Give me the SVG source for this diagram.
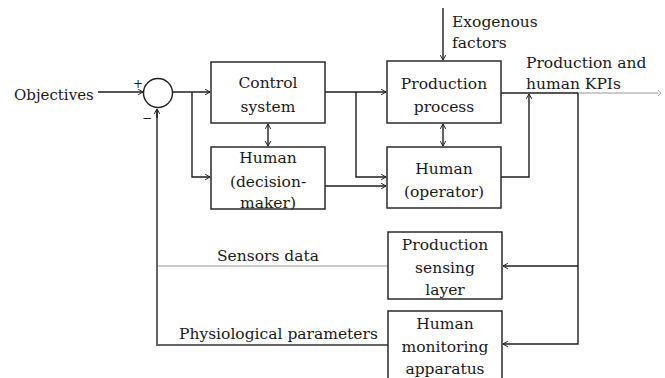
<svg xmlns="http://www.w3.org/2000/svg" width="665" height="378" viewBox="0 0 665 378">
<defs>
<marker id="ah" viewBox="0 0 10 10" refX="9" refY="5" markerWidth="7" markerHeight="7" markerUnits="userSpaceOnUse" orient="auto-start-reverse">
<polyline points="2,1 9,5 2,9" fill="none" stroke="#222" stroke-width="1.4"/>
</marker>
</defs>
<style>
.box{fill:#fff;stroke:#2a2a2a;stroke-width:1.5}
.t{font-family:"DejaVu Serif","Liberation Serif",serif;font-size:15.5px;fill:#1a1a1a}
.c{text-anchor:middle}
.ln{fill:none;stroke:#1e1e1e;stroke-width:1.4}
.gl{fill:none;stroke:#999;stroke-width:1.2}
.fb{fill:none;stroke:#666;stroke-width:2}
</style>
<rect width="665" height="378" fill="#fff"/>
<g id="connectors">
<path class="ln" d="M98,92 H143" marker-end="url(#ah)"/>
<path class="ln" d="M172,92 H210" marker-end="url(#ah)"/>
<path class="ln" d="M192,92 V177 H210" marker-end="url(#ah)"/>
<path class="ln" d="M268,124 V146" marker-start="url(#ah)" marker-end="url(#ah)"/>
<path class="ln" d="M325,92 H386" marker-end="url(#ah)"/>
<path class="ln" d="M356,92 V177 H386" marker-end="url(#ah)"/>
<path class="ln" d="M325,186 H386" marker-end="url(#ah)" stroke="#555"/>
<path class="ln" d="M443,8 V60" marker-end="url(#ah)"/>
<path class="ln" d="M443,124 V146" marker-start="url(#ah)" marker-end="url(#ah)"/>
<path class="ln" d="M501,93 H578"/>
<path class="gl" d="M578,93 H658"/>
<path d="M658,90 L661,93 L658,96" fill="none" stroke="#aaa" stroke-width="1"/>
<path class="ln" d="M501,177 H529 V94" marker-end="url(#ah)"/>
<path class="ln" d="M578,93 V344 H503" marker-end="url(#ah)"/>
<path class="ln" d="M578,266 H503" marker-end="url(#ah)"/>
<path class="gl" d="M388,266 H157"/>
<path class="fb" d="M388,345 H157 V109"/>
<path class="ln" d="M157,118 V109" marker-end="url(#ah)"/>
</g>
<g id="sum">
<circle cx="158" cy="93" r="14.5" fill="#fff" stroke="#222" stroke-width="1.4"/>
<text class="t" x="133" y="88" style="font-size:12px">+</text>
<text class="t" x="142" y="122" style="font-size:12px">−</text>
</g>
<g id="objectives"><text class="t" x="14" y="100" style="font-size:15px">Objectives</text></g>
<g id="control">
<rect class="box" x="211" y="62" width="114" height="61"/>
<text class="t c" x="268" y="88">Control</text>
<text class="t c" x="268" y="112">system</text>
</g>
<g id="decision">
<rect class="box" x="211" y="147" width="114" height="62"/>
<text class="t c" x="268" y="163">Human</text>
<text class="t c" x="268" y="187">(decision-</text>
<text class="t c" x="268" y="208">maker)</text>
</g>
<g id="production">
<rect class="box" x="387" y="61" width="114" height="62"/>
<text class="t c" x="444" y="89">Production</text>
<text class="t c" x="444" y="112">process</text>
</g>
<g id="operator">
<rect class="box" x="387" y="147" width="114" height="61"/>
<text class="t c" x="444" y="174">Human</text>
<text class="t c" x="444" y="197">(operator)</text>
</g>
<g id="exogenous">
<text class="t" x="452" y="27">Exogenous</text>
<text class="t" x="452" y="48">factors</text>
</g>
<g id="kpis">
<text class="t" x="526" y="68">Production and</text>
<text class="t" x="526" y="89">human KPIs</text>
</g>
<g id="sensing">
<rect class="box" x="388" y="232" width="114" height="67"/>
<text class="t c" x="445" y="250">Production</text>
<text class="t c" x="445" y="273">sensing</text>
<text class="t c" x="445" y="295">layer</text>
</g>
<g id="monitoring">
<rect class="box" x="388" y="311" width="114" height="70"/>
<text class="t c" x="445" y="329">Human</text>
<text class="t c" x="445" y="352">monitoring</text>
<text class="t c" x="445" y="374">apparatus</text>
</g>
<g id="labels">
<text class="t" x="217" y="261">Sensors data</text>
<text class="t" x="179" y="339">Physiological parameters</text>
</g>
</svg>
